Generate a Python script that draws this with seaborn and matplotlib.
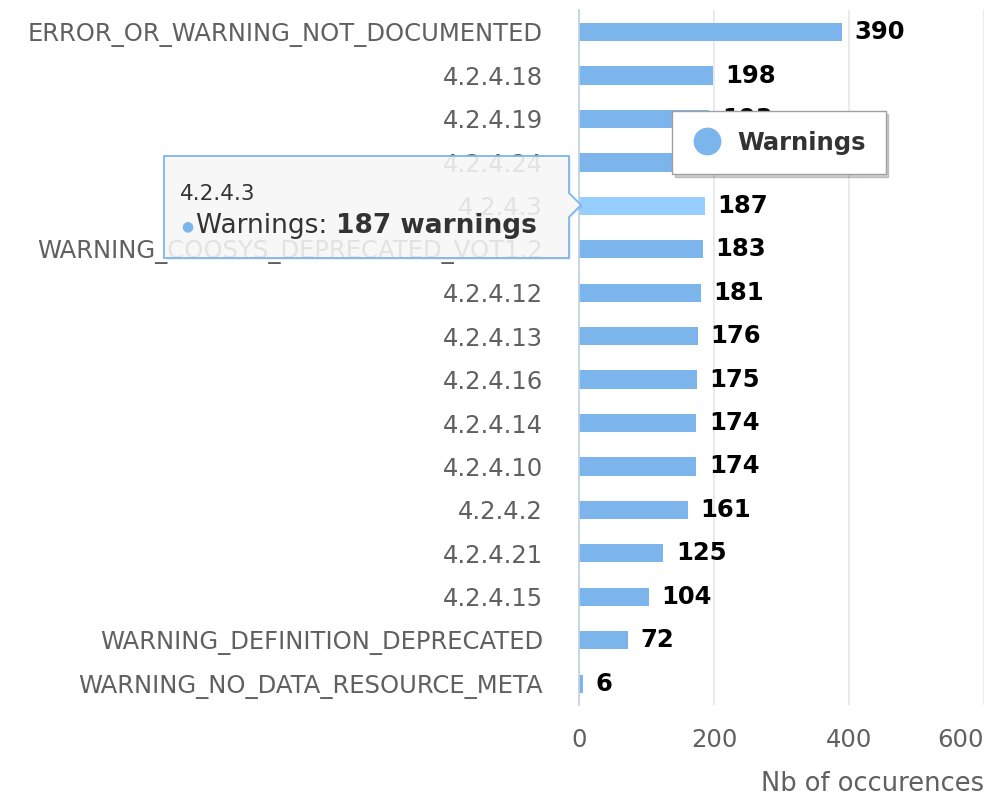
import matplotlib
matplotlib.use("Agg")
import matplotlib.pyplot as plt
import seaborn as sns
import pandas as pd
from matplotlib.patches import Polygon
from matplotlib.lines import Line2D

categories = ["ERROR_OR_WARNING_NOT_DOCUMENTED", "4.2.4.18", "4.2.4.19", "4.2.4.24",
              "4.2.4.3", "WARNING_COOSYS_DEPRECATED_VOT1.2", "4.2.4.12", "4.2.4.13",
              "4.2.4.16", "4.2.4.14", "4.2.4.10", "4.2.4.2", "4.2.4.21", "4.2.4.15",
              "WARNING_DEFINITION_DEPRECATED", "WARNING_NO_DATA_RESOURCE_META"]
values = [390, 198, 193, 189, 187, 183, 181, 176, 175, 174, 174, 161, 125, 104, 72, 6]
x_ticks = [0, 200, 400, 600]
series_name = "Warnings"
hovered = "4.2.4.3"

sns.set_theme(style="white")
plt.rcParams['font.family'] = ['DejaVu Sans']

df = pd.DataFrame({"category": categories, "value": values})

fig = plt.figure(figsize=(9.88, 7.97), dpi=100)
ax = fig.add_axes([0.586, 0.115, 0.410, 0.872])

sns.barplot(data=df, y="category", x="value", orient="h", color="#7cb5ec",
            saturation=1, width=0.42, ax=ax, zorder=2)
for p, c in zip(ax.patches, categories):
    p.set_edgecolor("none")
    if c == hovered:
        p.set_facecolor("#95ceff")

ax.set_xlim(0, 600)
ax.set_xticks(x_ticks)
ax.set_ylim(len(categories) - 0.5, -0.5)
ax.grid(axis="x", color="#e3e6ee", lw=1.2, zorder=0)
ax.grid(axis="y", visible=False)
for s in ["top", "right", "bottom"]:
    ax.spines[s].set_visible(False)
ax.spines["left"].set_color("#c0d0e0")
ax.spines["left"].set_linewidth(1.2)

FS = 17.5
ax.tick_params(axis="y", length=0, pad=26, labelsize=FS, labelcolor="#606060")
ax.tick_params(axis="x", length=0, pad=16, labelsize=FS, labelcolor="#606060")
xt = ax.get_xticklabels()
xt[-1].set_horizontalalignment("right")
xt[-1].set_x(600)
ax.set_ylabel("")
ax.set_xlabel("Nb of occurences", fontsize=18.5, color="#606060", loc="right", labelpad=14)

ax.bar_label(ax.containers[0], labels=[str(v) for v in values], padding=9,
             fontsize=FS, fontweight="bold", color="#000000")

handle = Line2D([], [], marker="o", linestyle="none", markersize=20,
                markerfacecolor="#7cb5ec", markeredgecolor="none")
leg = ax.legend([handle], [series_name], loc="upper left",
                bbox_to_anchor=(0.20, 0.872), frameon=True, fancybox=False,
                shadow={"color": "#000000", "alpha": 0.18},
                prop={"size": 17.5, "weight": "bold"},
                handletextpad=0.6, borderpad=0.8, handlelength=1.3)
leg.get_frame().set_edgecolor("#a0a0a0")
leg.get_frame().set_linewidth(1.0)
for t in leg.get_texts():
    t.set_color("#333333")

# tooltip (figure pixel coords converted to fraction)
W, H = 988, 797
def f(x, y):
    return (x / W, 1 - y / H)
pts = [f(164, 156), f(569, 156), f(569, 193), f(581, 205), f(569, 217),
       f(569, 258), f(164, 258)]
shadow = Polygon([(a + 2 / W, b - 2 / H) for a, b in pts], closed=True,
                 transform=fig.transFigure, facecolor="#000000", alpha=0.06,
                 edgecolor="none", zorder=9)
fig.add_artist(shadow)
tip = Polygon(pts, closed=True, transform=fig.transFigure, facecolor="#f9f9f9",
              alpha=0.86, edgecolor="none", zorder=10)
fig.add_artist(tip)
tip_edge = Polygon(pts, closed=True, transform=fig.transFigure, facecolor="none",
                   edgecolor="#7cb5ec", lw=1.3, zorder=11)
fig.add_artist(tip_edge)
fig.text(*f(180, 200), hovered, fontsize=15.5, color="#333333", zorder=12, va="baseline")
fig.text(*f(181, 230), "\u25cf", fontsize=10, color="#7cb5ec", zorder=12, va="baseline")
t1 = fig.text(*f(196, 233), series_name + ": ", fontsize=19, color="#333333",
              zorder=12, va="baseline")
fig.canvas.draw()
bb = t1.get_window_extent(renderer=fig.canvas.get_renderer())
fig.text(bb.x1 / W, 1 - 233 / H, f"{values[categories.index(hovered)]} warnings",
         fontsize=19, fontweight="bold", color="#333333", zorder=12, va="baseline")

fig.savefig("out.png", dpi=100)
